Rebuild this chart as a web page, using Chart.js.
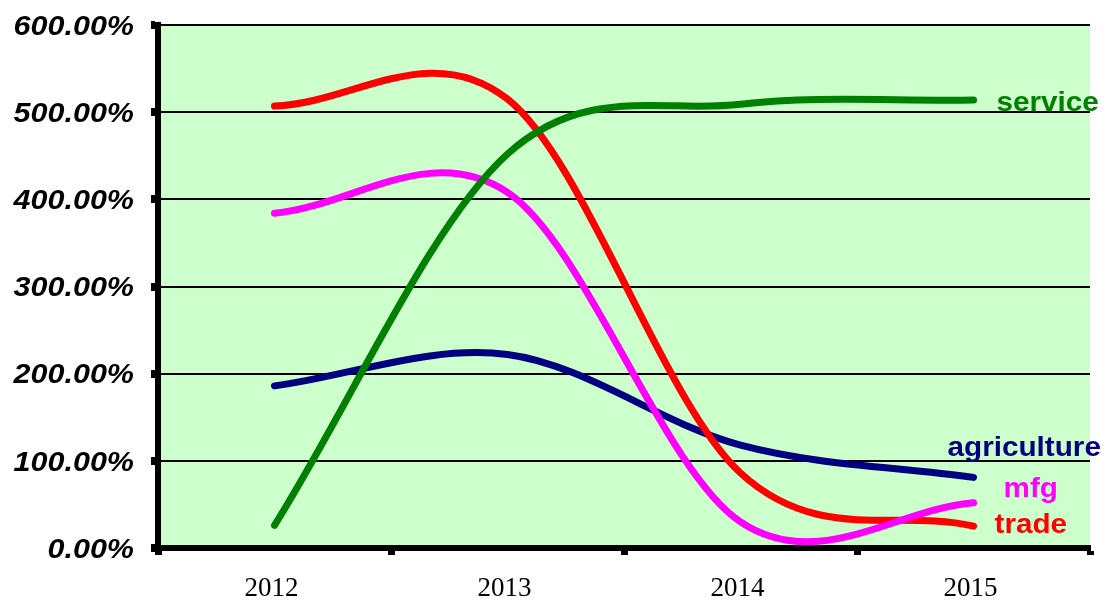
<!DOCTYPE html>
<html>
<head>
<meta charset="utf-8">
<script src="https://cdn.jsdelivr.net/npm/chart.js@4/dist/chart.umd.min.js"></script>
<style>
  html, body { margin: 0; padding: 0; background: #ffffff; }
  canvas { display: block; }
</style>
</head>
<body>
<canvas id="chart" width="1110" height="602"></canvas>
<script>
// Growth by sector, percent
const years       = ['2012', '2013', '2014', '2015'];
const service     = [26, 452, 509, 514];
const agriculture = [186, 222, 118, 81];
const mfg         = [384, 408, 30, 52];
const trade       = [507, 515, 86, 25];
const yMin = 0, yMax = 600, yStep = 100;

// Where each series name sits relative to its last point
const seriesLabelPlacement = {
  service:     { dx: 23,  dy: 11.5 },
  agriculture: { dx: -26, dy: -21.5 },
  mfg:         { dx: 30,  dy: -6 },
  trade:       { dx: 21,  dy: 7 }
};

const SANS = '"Liberation Sans", Arial, Helvetica, sans-serif';

function drawWideText(ctx, text, x, y, sx, align) {
  ctx.save();
  ctx.translate(x, y);
  ctx.scale(sx, 1);
  ctx.textAlign = align;
  ctx.fillText(text, 0, 0);
  ctx.restore();
}

const plotBackground = {
  id: 'plotBackground',
  beforeDraw(chart) {
    const { ctx, chartArea: a } = chart;
    ctx.save();
    ctx.fillStyle = '#CCFFCC';
    ctx.fillRect(a.left, a.top, a.right - a.left, a.bottom - a.top);
    ctx.restore();
  }
};

// Uniform Catmull-Rom style control points for the smoothed lines
const smoothCurves = {
  id: 'smoothCurves',
  beforeDatasetDraw(chart, args) {
    const line = args.meta.dataset;
    if (!line) return;
    line.updateControlPoints(chart.chartArea, 'x');
    const pts = line.points;
    const n = pts.length;
    for (let i = 0; i < n; i++) {
      const p = pts[i];
      let mx, my;
      if (i === 0) {
        mx = pts[1].x - p.x; my = pts[1].y - p.y;
      } else if (i === n - 1) {
        mx = p.x - pts[i - 1].x; my = p.y - pts[i - 1].y;
      } else {
        mx = (pts[i + 1].x - pts[i - 1].x) / 2;
        my = (pts[i + 1].y - pts[i - 1].y) / 2;
      }
      p.cp1x = p.x - mx / 3; p.cp1y = p.y - my / 3;
      p.cp2x = p.x + mx / 3; p.cp2y = p.y + my / 3;
    }
  }
};

const percentAxisLabels = {
  id: 'percentAxisLabels',
  afterDraw(chart) {
    const s = chart.scales.y;
    const ctx = chart.ctx;
    ctx.save();
    ctx.font = 'italic bold 27px ' + SANS;
    ctx.fillStyle = '#000000';
    ctx.textBaseline = 'alphabetic';
    s.ticks.forEach(t => {
      const y = s.getPixelForValue(t.value);
      drawWideText(ctx, t.value.toFixed(2) + '%', 134, y + 9.7, 1.13, 'right');
    });
    ctx.restore();
  }
};

const seriesNames = {
  id: 'seriesNames',
  afterDatasetsDraw(chart) {
    const ctx = chart.ctx;
    ctx.save();
    ctx.font = 'bold 28px ' + SANS;
    ctx.textBaseline = 'alphabetic';
    chart.data.datasets.forEach((ds, i) => {
      const meta = chart.getDatasetMeta(i);
      const pt = meta.data[meta.data.length - 1];
      const p = seriesLabelPlacement[ds.label];
      ctx.fillStyle = ds.borderColor;
      drawWideText(ctx, ds.label, pt.x + p.dx, pt.y + p.dy, 1.06, 'left');
    });
    ctx.restore();
  }
};

function series(label, data, color, order) {
  return {
    label, data, order,
    borderColor: color,
    backgroundColor: color,
    borderWidth: 7,
    borderCapStyle: 'round',
    borderJoinStyle: 'round',
    pointRadius: 0,
    pointHoverRadius: 0,
    tension: 0.5,
    fill: false
  };
}

new Chart(document.getElementById('chart'), {
  type: 'line',
  data: {
    labels: years,
    datasets: [
      series('service', service, '#008000', 1),
      series('mfg', mfg, '#FF00FF', 2),
      series('trade', trade, '#FF0000', 3),
      series('agriculture', agriculture, '#000080', 4)
    ]
  },
  options: {
    responsive: false,
    animation: false,
    devicePixelRatio: 1,
    layout: { padding: { left: 0, right: 20, top: 25, bottom: 0 } },
    plugins: {
      legend: { display: false },
      tooltip: { enabled: false }
    },
    scales: {
      x: {
        offset: true,
        grid: {
          offset: true,
          drawOnChartArea: false,
          drawTicks: true,
          tickLength: 7,
          tickWidth: 7,
          tickColor: '#000000'
        },
        border: { display: true, color: '#000000', width: 6 },
        ticks: {
          color: '#000000',
          font: { family: '"Liberation Serif", "Times New Roman", serif', size: 27 },
          padding: 18,
          labelOffset: -3,
          maxRotation: 0
        },
        afterFit(scale) { scale.height = 54; }
      },
      y: {
        min: yMin,
        max: yMax,
        ticks: { display: false, stepSize: yStep },
        grid: {
          color: '#000000',
          lineWidth: 2,
          drawTicks: true,
          tickLength: 7,
          tickWidth: 8,
          tickColor: '#000000'
        },
        border: { display: true, color: '#000000', width: 6 },
        afterFit(scale) { scale.width = 158; }
      }
    }
  },
  plugins: [plotBackground, smoothCurves, percentAxisLabels, seriesNames]
});
</script>
</body>
</html>
